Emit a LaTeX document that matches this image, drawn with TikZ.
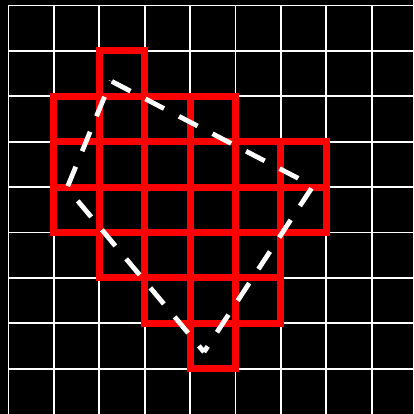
\documentclass[tikz,border=0pt]{standalone}
\begin{document}
\begin{tikzpicture}[x=1pt,y=-1pt,
  gridline/.style={white,line width=1.8pt,line cap=rect},
  cell/.style={draw=red,line width=7pt,line join=miter},
  poly/.style={white,line width=4.8pt,dash pattern=on 21pt off 16.8pt}]
\fill[black] (0,0) rectangle (413,414);
\useasboundingbox (0,0) rectangle (413,414);
\begin{scope}
\clip (0,0) rectangle (413,414);
\foreach \i in {0,...,8} {
  \draw[gridline] ({8.5+45.4*\i},5.5) -- ({8.5+45.4*\i},420);
  \draw[gridline] (8.5,{5.5+45.4*\i}) -- (420,{5.5+45.4*\i});
}
\end{scope}
\foreach \c/\r in {2/1, 1/2,2/2,3/2,4/2, 1/3,2/3,3/3,4/3,5/3,6/3, 1/4,2/4,3/4,4/4,5/4,6/4, 2/5,3/5,4/5,5/5, 3/6,4/6,5/6, 4/7}
  \draw[cell] ({8.5+45.4*\c},{5.5+45.4*\r}) rectangle ++(45.4,45.4);
\coordinate (T) at (111,81);
\coordinate (R) at (313,186);
\coordinate (B) at (204,352);
\coordinate (L) at (67,188);
\draw[poly,dash phase=36.8pt] (T) -- (R);
\draw[poly,dash phase=35pt] (R) -- (B);
\draw[poly,dash phase=13pt] (B) -- (L);
\draw[poly,dash phase=35.8pt] (L) -- (T);
\end{tikzpicture}
\end{document}
